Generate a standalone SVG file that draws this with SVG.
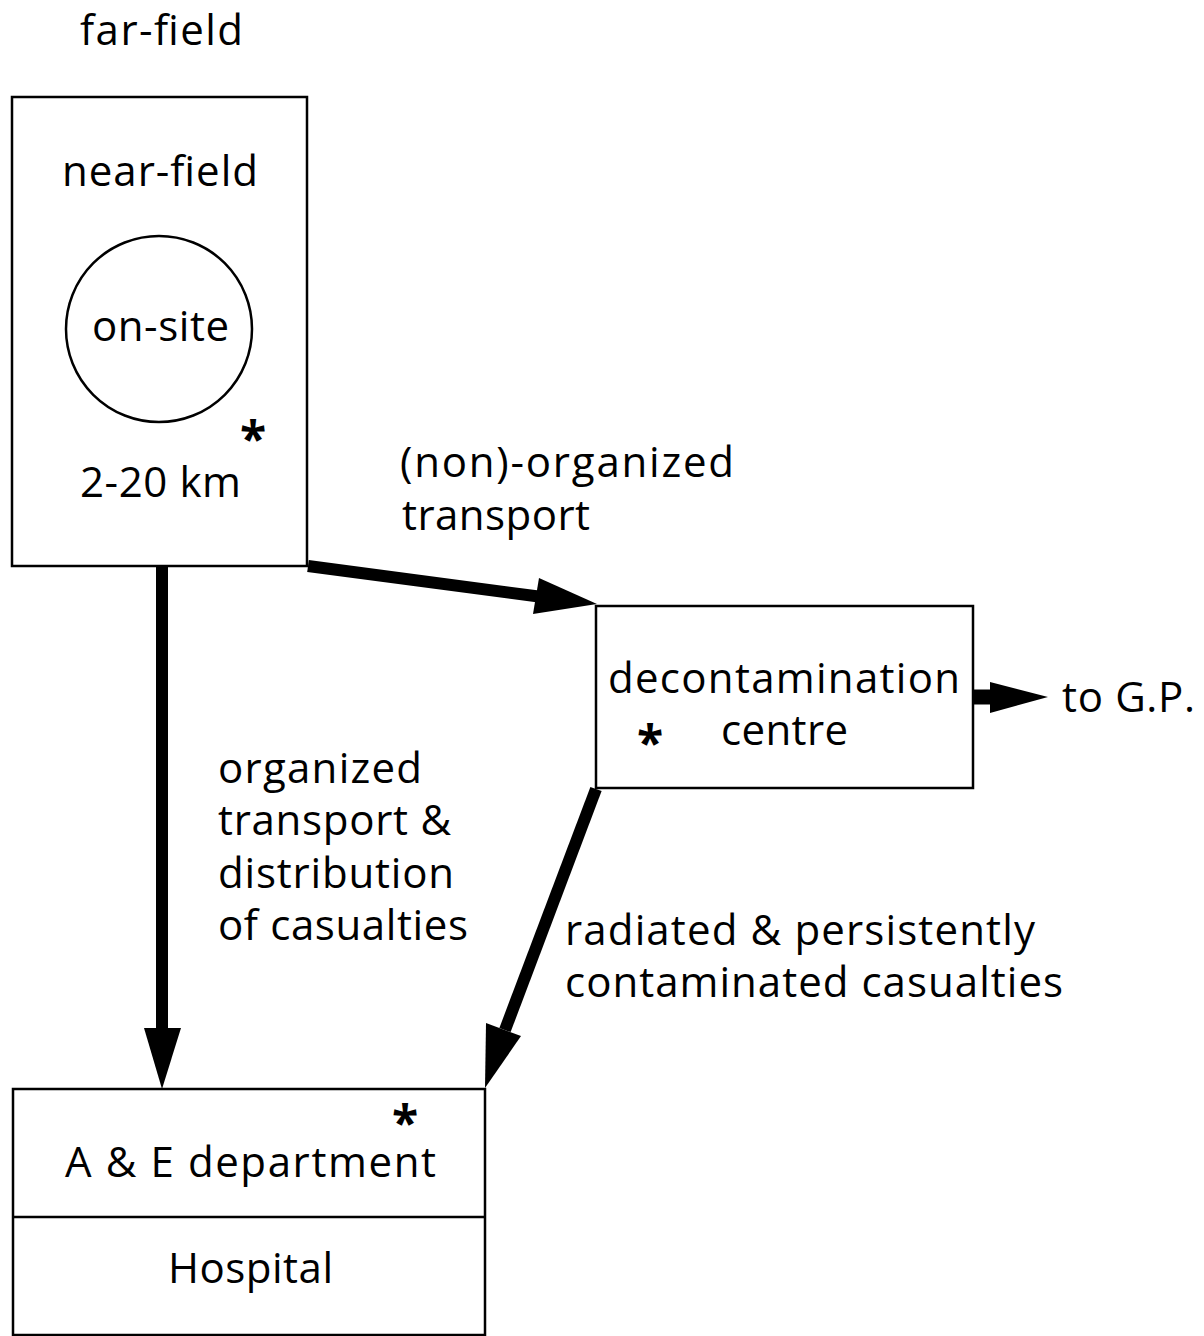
<svg xmlns="http://www.w3.org/2000/svg" width="1204" height="1336" viewBox="0 0 1204 1336">
<style>
text{font-family:"Open Sans","Noto Sans","Liberation Sans",sans-serif;font-size:42px;fill:#000}
.ast{font-size:48px;font-weight:bold}
.box{fill:none;stroke:#000;stroke-width:2.5}
.shaft{stroke:#000;stroke-width:12;fill:none}
.head{fill:#000}
</style>
<rect width="1204" height="1336" fill="#fff"/>
<text x="80" y="45" textLength="163" lengthAdjust="spacing">far-field</text>
<g id="near-field">
<rect class="box" x="12" y="97" width="295" height="469"/>
<text x="62" y="186" textLength="196" lengthAdjust="spacing">near-field</text>
<text class="ast" x="253" y="456" text-anchor="middle">*</text>
<text x="80" y="497" textLength="161" lengthAdjust="spacing">2-20 km</text>
</g>
<g id="on-site">
<circle class="box" cx="159" cy="329" r="93"/>
<text x="92" y="341" textLength="137" lengthAdjust="spacing">on-site</text>
</g>
<g id="decontamination-centre">
<rect class="box" x="596" y="606" width="377" height="182"/>
<text x="608" y="693" textLength="352" lengthAdjust="spacing">decontamination</text>
<text class="ast" x="650" y="760" text-anchor="middle">*</text>
<text x="721" y="745" textLength="127" lengthAdjust="spacing">centre</text>
</g>
<g id="hospital">
<rect class="box" x="13" y="1089" width="472" height="246"/>
<line class="box" x1="13" y1="1217" x2="485" y2="1217"/>
<text class="ast" x="405" y="1140" text-anchor="middle">*</text>
<text x="65" y="1177" textLength="371" lengthAdjust="spacing">A &amp; E department</text>
<text x="168" y="1283" textLength="165" lengthAdjust="spacing">Hospital</text>
</g>
<text x="1062" y="712" textLength="133" lengthAdjust="spacing">to G.P.</text>
<g id="connectors">
<line class="shaft" x1="162" y1="566" x2="162" y2="1040"/>
<polygon class="head" points="144,1028 181,1028 162,1089"/>
<line class="shaft" x1="308" y1="566" x2="550" y2="598"/>
<polygon class="head" points="539,578 597,604 533,614"/>
<line class="shaft" x1="596" y1="789" x2="505" y2="1030"/>
<polygon class="head" points="486,1023 521,1036 485,1088"/>
<line style="stroke:#000;stroke-width:15" x1="973" y1="697" x2="1000" y2="697"/>
<polygon class="head" points="990,682 1048,697 990,713"/>
</g>
<text x="400" y="477" textLength="334" lengthAdjust="spacing">(non)-organized</text>
<text x="402" y="530" textLength="188" lengthAdjust="spacing">transport</text>
<text x="218" y="783" textLength="204" lengthAdjust="spacing">organized</text>
<text x="218" y="835" textLength="233" lengthAdjust="spacing">transport &amp;</text>
<text x="218" y="888" textLength="236" lengthAdjust="spacing">distribution</text>
<text x="218" y="940" textLength="250" lengthAdjust="spacing">of casualties</text>
<text x="565" y="945" textLength="470" lengthAdjust="spacing">radiated &amp; persistently</text>
<text x="565" y="997" textLength="498" lengthAdjust="spacing">contaminated casualties</text>
</svg>
